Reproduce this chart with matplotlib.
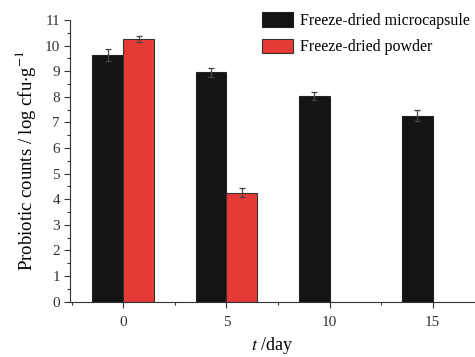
import matplotlib
matplotlib.use("Agg")
import matplotlib.pyplot as plt
import numpy as np
from matplotlib.ticker import MultipleLocator

plt.rcParams['font.family'] = ['Liberation Serif', 'DejaVu Serif']
plt.rcParams['mathtext.fontset'] = 'stix'

days = [0, 5, 10, 15]
micro_vals = [9.63, 8.96, 8.03, 7.27]
micro_err = [0.22, 0.17, 0.17, 0.22]
powder_days = [0, 5]
powder_vals = [10.26, 4.26]
powder_err = [0.12, 0.17]
labels = ["Freeze-dried microcapsule", "Freeze-dried powder"]

fig = plt.figure(figsize=(4.75, 3.57), dpi=100)
ax = fig.add_axes([0.148, 0.155, 0.85, 0.789])

w = 1.5
ax.bar(np.array(days) - w/2, micro_vals, width=w, color='#161413', edgecolor='#222222',
       linewidth=0.8, label=labels[0], zorder=2)
ax.bar(np.array(powder_days) + w/2, powder_vals, width=w, color='#e53a35', edgecolor='#333333',
       linewidth=0.8, label=labels[1], zorder=2)
ax.errorbar(np.array(days) - w/2, micro_vals, yerr=micro_err, fmt='none', ecolor='#444444',
            elinewidth=0.9, capsize=2.5, capthick=0.9, zorder=3)
ax.errorbar(np.array(powder_days) + w/2, powder_vals, yerr=powder_err, fmt='none', ecolor='#444444',
            elinewidth=0.9, capsize=2.5, capthick=0.9, zorder=3)

ax.set_xlim(-2.57, 17.0)
ax.set_ylim(0, 11)
ax.set_xticks(days)
ax.xaxis.set_minor_locator(MultipleLocator(2.5))
ax.yaxis.set_major_locator(MultipleLocator(1))
ax.yaxis.set_minor_locator(MultipleLocator(0.5))
ax.spines['top'].set_visible(False)
ax.spines['right'].set_visible(False)
for s in ['left', 'bottom']:
    ax.spines[s].set_linewidth(0.8)
    ax.spines[s].set_color('#333333')
ax.tick_params(which='major', direction='out', length=4, width=0.8, labelsize=11, colors='#333333')
ax.tick_params(which='minor', direction='out', length=2, width=0.8, colors='#333333')
ax.tick_params(axis='x', pad=6)

ax.set_ylabel(r'Probiotic counts / log cfu$\cdot$g$^{-1}$', fontsize=13.5, labelpad=5)
ax.set_xlabel(r'$t$ /day', fontsize=13, labelpad=5)

ax.legend(loc='upper right', bbox_to_anchor=(1.025, 1.078), frameon=False, fontsize=11.5,
          handlelength=1.95, handleheight=1.0, handletextpad=0.45, labelspacing=0.6)

fig.savefig('out.png', dpi=100)
